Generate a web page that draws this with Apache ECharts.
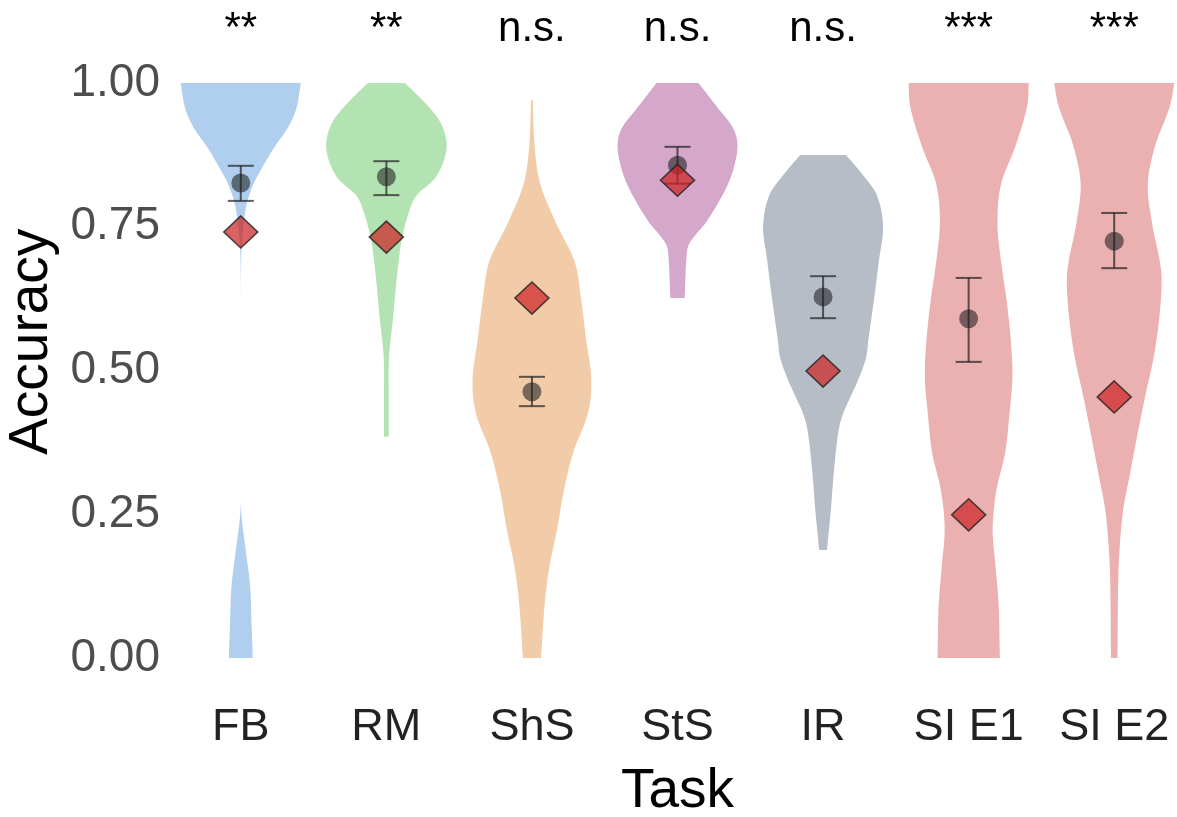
<!DOCTYPE html>
<html>
<head>
<meta charset="utf-8">
<title>Accuracy by task</title>
<script src="https://cdn.jsdelivr.net/npm/echarts@6/dist/echarts.min.js"></script>
<style>
  html, body { margin: 0; padding: 0; background: #ffffff; }
  #chart { width: 1177px; height: 817px; }
</style>
</head>
<body>
<div id="chart"></div>
<script>
// Tasks and their significance markers
const tasks = ['FB', 'RM', 'ShS', 'StS', 'IR', 'SI E1', 'SI E2'];
const significance = ['**', '**', 'n.s.', 'n.s.', 'n.s.', '***', '***'];

// Participant mean accuracy with its error interval
const meanAcc = [0.826, 0.837, 0.463, 0.857, 0.628, 0.590, 0.725];
const ciLow   = [0.795, 0.805, 0.438, 0.825, 0.591, 0.515, 0.678];
const ciHigh  = [0.856, 0.864, 0.489, 0.889, 0.664, 0.661, 0.774];

// Reference accuracy (diamonds)
const modelAcc = [0.741, 0.732, 0.626, 0.831, 0.499, 0.249, 0.454];

// Y-axis ticks
const yTicks = [0, 0.25, 0.5, 0.75, 1.0];

// Violin density profiles: [accuracy, relative density], top to bottom
const densFB = [[1.0,1.0],[0.957,0.93],[0.923,0.79],[0.89,0.57],[0.857,0.38],[0.824,0.21],[0.79,0.10],[0.757,0.05],[0.724,0.02],[0.69,0.005],[0.6,0],[0.35,0],[0.258,0.005],[0.19,0.08],[0.125,0.155],[0.058,0.18],[0,0.2]];
const densRM = [[1.0,0.31],[0.957,0.72],[0.923,0.94],[0.883,1.0],[0.837,0.83],[0.804,0.5],[0.77,0.36],[0.724,0.25],[0.657,0.17],[0.59,0.11],[0.524,0.045],[0.45,0.04],[0.385,0.04]];
const densShS = [[0.97,0.015],[0.89,0.045],[0.824,0.14],[0.757,0.40],[0.69,0.71],[0.624,0.82],[0.557,0.9],[0.484,0.99],[0.424,0.93],[0.358,0.69],[0.29,0.53],[0.224,0.42],[0.158,0.29],[0.091,0.21],[0,0.15]];
const densStS = [[1.0,0.35],[0.957,0.67],[0.923,0.92],[0.893,1.0],[0.857,0.95],[0.824,0.84],[0.79,0.67],[0.757,0.47],[0.737,0.31],[0.717,0.18],[0.69,0.145],[0.657,0.13],[0.626,0.12]];
const densIR = [[0.875,0.38],[0.843,0.64],[0.804,0.9],[0.75,1.0],[0.69,0.93],[0.624,0.85],[0.557,0.76],[0.524,0.72],[0.49,0.61],[0.457,0.47],[0.424,0.33],[0.39,0.25],[0.324,0.18],[0.258,0.13],[0.188,0.065]];
const densSIE1 = [[1.0,1.0],[0.957,0.97],[0.89,0.78],[0.824,0.54],[0.757,0.48],[0.69,0.54],[0.624,0.63],[0.557,0.7],[0.49,0.73],[0.424,0.68],[0.358,0.61],[0.29,0.46],[0.224,0.4],[0.158,0.45],[0.091,0.5],[0,0.52]];
const densSIE2 = [[1.0,1.0],[0.957,0.92],[0.89,0.68],[0.824,0.56],[0.757,0.63],[0.69,0.76],[0.65,0.79],[0.59,0.75],[0.524,0.66],[0.457,0.52],[0.39,0.39],[0.324,0.27],[0.258,0.15],[0.19,0.09],[0.124,0.065],[0,0.055]];

const profiles = [densFB, densRM, densShS, densStS, densIR, densSIE1, densSIE2];
const violinColors = ['#b0cfee', '#b3e3b3', '#f2cba8', '#d4a7cb', '#b6bdc7', '#ebb0b0', '#ebb0b0'];

const VIOLIN_HALF = 0.412;   // max half-width as a share of the category band
const SIG_LEVEL = 1.056;     // where the significance markers sit
const FONT = '"Liberation Sans", Arial, Helvetica, sans-serif';

// Catmull-Rom resampling of a profile so the outline draws as a smooth curve
function smoothProfile(prof, steps) {
  const out = [];
  const n = prof.length;
  for (let k = 0; k < n - 1; k++) {
    const p0 = prof[Math.max(k - 1, 0)], p1 = prof[k], p2 = prof[k + 1], p3 = prof[Math.min(k + 2, n - 1)];
    for (let s = 0; s < steps; s++) {
      const t = s / steps, t2 = t * t, t3 = t2 * t;
      const f = (a, b, c, d) => 0.5 * (2 * b + (-a + c) * t + (2 * a - 5 * b + 4 * c - d) * t2 + (-a + 3 * b - 3 * c + d) * t3);
      out.push([f(p0[0], p1[0], p2[0], p3[0]), Math.max(0, f(p0[1], p1[1], p2[1], p3[1]))]);
    }
  }
  out.push(prof[n - 1]);
  return out;
}

function renderViolin(params, api) {
  const i = api.value(0);
  const cx = api.coord([i, 0])[0];
  const half = api.size([1, 0])[0] * VIOLIN_HALF;
  const pts = smoothProfile(profiles[i], 10);
  const right = pts.map(p => [cx + p[1] * half, api.coord([i, p[0]])[1]]);
  const left = pts.slice().reverse().map(p => [cx - p[1] * half, api.coord([i, p[0]])[1]]);
  return {
    type: 'polygon',
    shape: { points: right.concat(left) },
    style: { fill: violinColors[i] }
  };
}

function renderErrorBar(params, api) {
  const i = api.value(0);
  const lo = api.coord([i, api.value(1)]);
  const hi = api.coord([i, api.value(2)]);
  const cap = 13;
  const style = { stroke: 'rgba(35,35,35,0.72)', lineWidth: 2 };
  return {
    type: 'group',
    children: [
      { type: 'line', shape: { x1: lo[0], y1: lo[1], x2: hi[0], y2: hi[1] }, style },
      { type: 'line', shape: { x1: lo[0] - cap, y1: lo[1], x2: lo[0] + cap, y2: lo[1] }, style },
      { type: 'line', shape: { x1: hi[0] - cap, y1: hi[1], x2: hi[0] + cap, y2: hi[1] }, style }
    ]
  };
}

function renderSignificance(params, api) {
  const i = api.value(0);
  const p = api.coord([i, SIG_LEVEL]);
  return {
    type: 'text',
    x: p[0], y: p[1],
    style: {
      text: significance[i],
      fill: '#000000',
      font: '42px ' + FONT,
      align: 'center',
      verticalAlign: 'bottom',
      lineHeight: 42
    }
  };
}

const idx = tasks.map((_, i) => i);

const option = {
  animation: false,
  backgroundColor: '#ffffff',
  grid: { left: 168, right: -10, top: -3.25, bottom: 130.25, containLabel: false, outerBoundsMode: 'none' },
  xAxis: {
    type: 'category',
    data: tasks,
    boundaryGap: true,
    axisLine: { show: false },
    axisTick: { show: false },
    splitLine: { show: false },
    axisLabel: { color: '#222222', fontSize: 45, fontFamily: FONT, margin: 18, lineHeight: 45, interval: 0 },
    name: 'Task',
    nameLocation: 'middle',
    nameGap: 78,
    nameTextStyle: { color: '#000000', fontSize: 55, fontFamily: FONT, lineHeight: 55 }
  },
  yAxis: {
    type: 'value',
    min: -0.05,
    max: 1.15,
    axisLine: { show: false },
    axisTick: { show: false },
    splitLine: { show: false },
    axisLabel: {
      customValues: yTicks,
      formatter: v => v.toFixed(2),
      color: '#4d4d4d', fontSize: 46, fontFamily: FONT, margin: 8
    },
    name: 'Accuracy',
    nameLocation: 'middle',
    nameGap: 107,
    nameTextStyle: { color: '#000000', fontSize: 55, fontFamily: FONT, lineHeight: 55 }
  },
  series: [
    {
      type: 'custom',
      name: 'violins',
      renderItem: renderViolin,
      data: idx.map(i => [i]),
      encode: { x: 0 },
      z: 1,
      clip: false
    },
    {
      type: 'custom',
      name: 'error',
      renderItem: renderErrorBar,
      data: idx.map(i => [i, ciLow[i], ciHigh[i]]),
      encode: { x: 0, y: [1, 2] },
      z: 2
    },
    {
      type: 'scatter',
      name: 'mean',
      data: idx.map(i => [i, meanAcc[i]]),
      symbol: 'circle',
      symbolSize: 19,
      itemStyle: { color: 'rgba(30,30,30,0.72)' },
      z: 3
    },
    {
      type: 'scatter',
      name: 'model',
      data: idx.map(i => [i, modelAcc[i]]),
      symbol: 'diamond',
      symbolSize: [34, 32],
      itemStyle: { color: 'rgba(205,38,38,0.9)', borderColor: '#222222', borderWidth: 1.6 },
      z: 4
    },
    {
      type: 'custom',
      name: 'significance',
      renderItem: renderSignificance,
      data: idx.map(i => [i]),
      encode: { x: 0 },
      z: 5,
      clip: false
    }
  ]
};

const chart = echarts.init(document.getElementById('chart'), null, { renderer: 'canvas' });
chart.setOption(option);
</script>
</body>
</html>
